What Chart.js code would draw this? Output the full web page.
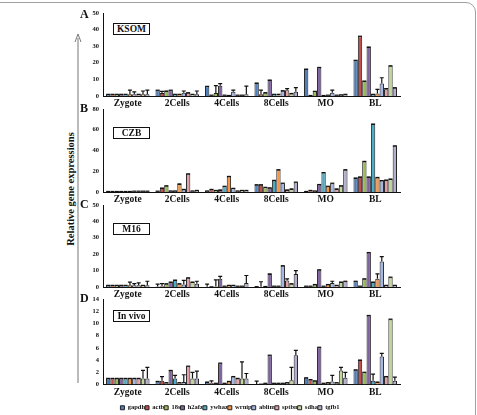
<!DOCTYPE html>
<html>
<head>
<meta charset="utf-8">
<script src="https://cdn.jsdelivr.net/npm/chart.js@4/dist/chart.umd.min.js"></script>
<style>
  body { margin: 0; background: #fff; width: 477px; height: 415px; overflow: hidden; position: relative; font-family: 'Liberation Serif', 'Times New Roman', serif; }
  .frame { position: absolute; left: -20px; top: 2px; width: 496px; height: 500px; box-sizing: border-box; border: 1.5px solid #a0a0a0; border-radius: 10px; }
  canvas { position: absolute; }
  .letter { position: absolute; font-weight: bold; font-size: 12px; color: #111; }
  .tag { position: absolute; left: 113px; width: 37px; height: 12px; box-sizing: border-box; border: 1.5px solid #111; font-weight: bold; font-size: 9.5px; line-height: 10px; text-align: center; color: #111; background: #fff; }
  .ytitle { position: absolute; left: 70px; top: 189px; transform: translate(-50%, -50%) rotate(-90deg); white-space: nowrap; font-weight: bold; font-size: 10.5px; color: #111; }
  svg { position: absolute; left: 0; top: 0; }
</style>
</head>
<body>
<div class="frame"></div>
<svg width="100" height="415">
  <line x1="78" y1="383" x2="78" y2="38" stroke="#777" stroke-width="1"/>
  <path d="M75,42 L78,34 L81,42" fill="none" stroke="#777" stroke-width="1"/>
</svg>
<div class="ytitle">Relative gene expressions</div>

<canvas id="chartA" style="left:60px;top:0px;" width="390" height="110"></canvas>
<canvas id="chartB" style="left:60px;top:100px;" width="390" height="106"></canvas>
<canvas id="chartC" style="left:60px;top:196px;" width="390" height="105"></canvas>
<canvas id="chartD" style="left:60px;top:290px;" width="390" height="131"></canvas>

<div class="letter" style="left:80px;top:7px;">A</div>
<div class="letter" style="left:80px;top:101px;">B</div>
<div class="letter" style="left:80px;top:197px;">C</div>
<div class="letter" style="left:80px;top:291px;">D</div>

<div class="tag" style="top:23px;">KSOM</div>
<div class="tag" style="top:127px;">CZB</div>
<div class="tag" style="top:223px;">M16</div>
<div class="tag" style="top:310px;">In vivo</div>

<script>
// categories and genes
const stages = ['Zygote', '2Cells', '4Cells', '8Cells', 'MO', 'BL'];
const genes = ['gapdh', 'actb', '18s', 'h2afz', 'ywhaz', 'wrnip', 'ablim', 'sptbn', 'sdha', 'tgfb1'];
const geneColors = ['#4f7fbd', '#c0504d', '#9bbb59', '#7f63a1', '#4bacc6', '#f79646', '#a4b6e2', '#e3a0a6', '#c3d69b', '#b2aecb'];

// one row per gene, one column per stage
const ksomVals = [
  [1, 3.5, 5.8, 7.8, 16.2, 21.5],
  [1, 1.8, 0.5, 1, 0.3, 36],
  [1, 3, 1.8, 2, 2.8, 9],
  [1, 3.5, 6.2, 9.6, 17.2, 29.5],
  [1, 1, 0.5, 1, 0.3, 1],
  [1, 1, 0.3, 0.5, 0.5, 1.5],
  [1, 2, 2.5, 3.2, 2, 7.5],
  [1, 2, 0.5, 3.5, 0.5, 4],
  [1, 1, 0.5, 1.5, 0.7, 18.2],
  [1, 1, 1, 2.5, 1, 5]
];
const czbVals = [
  [0.5, 0.8, 1, 7, 0.5, 13.5],
  [0.5, 3.8, 2.5, 7, 1.5, 14.5],
  [0.5, 6, 1.5, 4.5, 1, 29.5],
  [0.5, 1, 2, 4, 7.2, 14.5],
  [0.5, 1, 5.5, 11.2, 18.7, 65.5],
  [0.5, 7.8, 15, 21.5, 5.5, 14],
  [0.8, 2.5, 3.5, 8.5, 8.5, 11],
  [0.8, 17.5, 1, 2, 3, 11.5],
  [0.8, 1, 1.5, 3, 6, 12.5],
  [0.8, 1.5, 1.5, 9.5, 21.5, 44.5]
];
const m16Vals = [
  [1, 0.3, 0.2, 0.2, 0.5, 3.5],
  [1, 0.5, 0.1, 0.2, 0.5, 0.5],
  [1, 2, 0.3, 0.3, 1.5, 5],
  [1, 3, 5, 8, 10.5, 21],
  [1, 4.2, 0.5, 0.5, 0.5, 3],
  [1, 2, 1, 0.5, 1.5, 5],
  [1, 1.5, 1, 13, 2.5, 15.5],
  [1, 5.6, 0.5, 4, 1, 1],
  [1, 3, 0.5, 2, 3, 6],
  [1, 2, 2.5, 8, 3.5, 1]
];
const invivoVals = [
  [1, 0.5, 0.4, 0.05, 1.1, 2.4],
  [1, 0.6, 0.3, 0.05, 0.8, 4],
  [1, 0.3, 0.2, 0.2, 0.6, 2],
  [1, 2.3, 3.5, 4.8, 6.1, 11.3],
  [1, 1, 0.2, 0.2, 0.2, 0.6],
  [1, 0.3, 0.5, 0.2, 0.3, 0.4],
  [1, 0.4, 1.3, 0.2, 0.5, 4.6],
  [1, 3, 1, 0.3, 0.3, 1.3],
  [1, 1, 1, 0.7, 2.3, 10.7],
  [1, 1, 1, 4.8, 1.1, 0.6]
];

// upper error bars: [gene, stage, error]
const ksomErr = [[5,0,2.5],[8,0,2],[9,0,2.5],[6,0,1.5],[1,1,1],[6,1,1],[9,1,2],[2,2,4.5],[3,2,1.3],[6,2,1],[9,2,5],
  [1,3,2.5],[5,3,0.5],[7,3,1],[9,3,2.5],[6,4,1.5],[5,5,2.5],[6,5,3.5],[7,5,0.5]];
const czbErr = [];
const m16Err = [[5,0,2],[6,0,1],[7,0,1.5],[9,0,2.5],[0,1,1.5],[1,1,1.5],[6,1,2.5],[9,1,1.5],[0,2,1.5],[2,2,4],[3,2,1.5],[9,2,4.5],
  [1,3,3],[7,3,1],[9,3,2],[6,4,1],[5,5,3],[6,5,3]];
const invivoErr = [[8,0,1.3],[9,0,1.8],[1,1,0.7],[4,1,0.5],[6,1,1.2],[8,1,1],[9,1,1.2],[8,2,2.7],[9,2,0.8],[1,2,0.3],
  [0,3,0.5],[8,3,2.1],[9,3,0.8],[6,4,1],[8,4,0.5],[9,4,0.9],[4,5,1.1],[6,5,0.5],[9,5,0.6]];

Chart.defaults.font.family = "'Liberation Serif', 'Times New Roman', serif";
Chart.defaults.font.weight = 'bold';
Chart.defaults.color = '#111';

function makeChart(id, vals, errs, yMax, yStep, padTop, showLegend) {
  const errorBars = {
    id: 'errorBars',
    afterDatasetsDraw(chart) {
      const ctx = chart.ctx;
      const y = chart.scales.y;
      chart.data.datasets.forEach((ds, i) => {
        chart.getDatasetMeta(i).data.forEach((bar, j) => {
          const hit = errs.find(e => e[0] === i && e[1] === j);
          const top = y.getPixelForValue(ds.data[j] + (hit ? hit[2] : 0));
          ctx.save();
          ctx.strokeStyle = '#111';
          ctx.lineWidth = 1.2;
          ctx.beginPath();
          ctx.moveTo(bar.x, bar.y);
          ctx.lineTo(bar.x, top);
          ctx.moveTo(bar.x - 2, top);
          ctx.lineTo(bar.x + 2, top);
          ctx.stroke();
          ctx.restore();
        });
      });
    }
  };

  return new Chart(document.getElementById(id), {
    type: 'bar',
    data: {
      labels: stages,
      datasets: genes.map((g, i) => ({
        label: g,
        data: vals[i],
        backgroundColor: geneColors[i],
        borderColor: '#222',
        borderWidth: 1
      }))
    },
    options: {
      responsive: false,
      animation: false,
      layout: { padding: { top: padTop, right: 50, left: 0, bottom: 0 } },
      datasets: { bar: { categoryPercentage: 0.88, barPercentage: 1.0 } },
      plugins: {
        tooltip: { enabled: false },
        legend: {
          display: showLegend,
          position: 'bottom',
          align: 'center',
          labels: {
            boxWidth: 4,
            boxHeight: 4,
            padding: 0,
            font: { size: 6.5, weight: 'bold' },
            color: '#111'
          }
        }
      },
      scales: {
        x: {
          grid: { display: false, drawTicks: false, tickLength: 0 },
          border: { color: '#111', width: 1 },
          ticks: { padding: 2, font: { size: 9.5, weight: 'bold' }, color: '#111', maxRotation: 0 },
          afterFit: s => { s.height = showLegend ? 20 : 14; }
        },
        y: {
          min: 0,
          max: yMax,
          grid: { display: false, drawTicks: true, tickLength: 3 },
          border: { color: '#111', width: 1 },
          ticks: { stepSize: yStep, padding: 1, font: { size: 6.5, weight: 'bold' }, color: '#111' },
          afterFit: s => { s.width = 43; }
        }
      }
    },
    plugins: [errorBars]
  });
}

makeChart('chartA', ksomVals, ksomErr, 50, 10, 13, false);
makeChart('chartB', czbVals, czbErr, 80, 20, 9, false);
makeChart('chartC', m16Vals, m16Err, 50, 10, 9, false);
makeChart('chartD', invivoVals, invivoErr, 14, 2, 9, true);
</script>
</body>
</html>
